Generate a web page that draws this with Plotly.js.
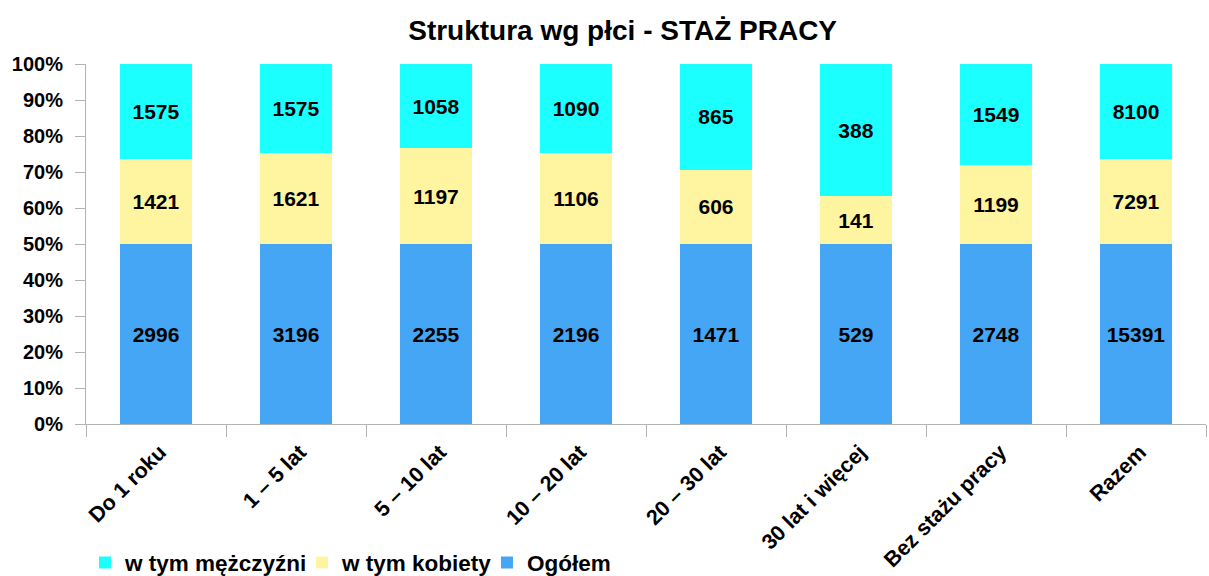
<!DOCTYPE html>
<html>
<head>
<meta charset="utf-8">
<script src="https://cdn.plot.ly/plotly-3.0.1.min.js"></script>
<style>html,body{margin:0;padding:0;background:#fff;}#chart{width:1209px;height:576px;}</style>
</head>
<body>
<div id="chart"></div>
<script>
const categories = ["Do 1 roku", "1 – 5 lat", "5 – 10 lat", "10 – 20 lat", "20 – 30 lat", "30 lat i więcej", "Bez stażu pracy", "Razem"];
const ogolem = [2996, 3196, 2255, 2196, 1471, 529, 2748, 15391];
const kobiety = [1421, 1621, 1197, 1106, 606, 141, 1199, 7291];
const mezczyzni = [1575, 1575, 1058, 1090, 865, 388, 1549, 8100];
const yTicks = [0, 10, 20, 30, 40, 50, 60, 70, 80, 90, 100];

const FONT = "Liberation Sans, Arial, sans-serif";
const labelFont = {family: FONT, size: 21, color: "#000000", weight: "bold"};
const legendFont = {family: FONT, size: 22.5, color: "#000", weight: "bold"};

function series(name, vals, color, legendId) {
  return {
    type: "bar", name: name, x: categories, y: vals, legend: legendId,
    marker: {color: color, line: {width: 0}},
    text: vals.map(String), textposition: "inside", insidetextanchor: "middle",
    textangle: 0, constraintext: "none", textfont: labelFont,
    hoverinfo: "x+y+name"
  };
}

const data = [
  series("Ogółem", ogolem, "#44A6F4", "legend3"),
  series("w tym kobiety", kobiety, "#FFF5A0", "legend2"),
  series("w tym mężczyźni", mezczyzni, "#1CFFFF", "legend")
];

function legendAt(x) {
  return {orientation: "h", x: x, xanchor: "left", yref: "container", y: 0.023, yanchor: "middle", font: legendFont, bgcolor: "rgba(0,0,0,0)"};
}

const layout = {
  width: 1209, height: 576,
  margin: {l: 86, r: 3, t: 64, b: 152},
  paper_bgcolor: "#ffffff", plot_bgcolor: "#ffffff",
  barmode: "stack", barnorm: "percent", bargap: 0.49,
  title: {text: "Struktura wg płci - STAŻ PRACY", font: {family: FONT, size: 28, color: "#000", weight: "bold"}, x: 0.515, xanchor: "center", y: 0.948, yanchor: "middle"},
  xaxis: {
    type: "category", tickangle: -45, tickson: "boundaries", ticks: "outside", ticklen: 12, tickcolor: "#b3b3b3",
    ticklabelstandoff: 6, ticklabelshift: 4,
    showline: true, linecolor: "#b3b3b3", linewidth: 1, showgrid: false, zeroline: false,
    tickfont: {family: FONT, size: 21.5, color: "#000", weight: "bold"}
  },
  yaxis: {
    range: [0, 100], tickvals: yTicks, ticktext: yTicks.map(v => v + "%"),
    ticks: "outside", ticklen: 10, tickcolor: "#b3b3b3", ticklabelstandoff: 8,
    showline: true, linecolor: "#b3b3b3", linewidth: 1, showgrid: false, zeroline: false,
    tickfont: {family: FONT, size: 20, color: "#000", weight: "bold"}
  },
  legend: legendAt(-0.0009),
  legend2: legendAt(0.1929),
  legend3: legendAt(0.358),
  showlegend: true
};

Plotly.newPlot("chart", data, layout, {displayModeBar: false, staticPlot: true});
</script>
</body>
</html>
